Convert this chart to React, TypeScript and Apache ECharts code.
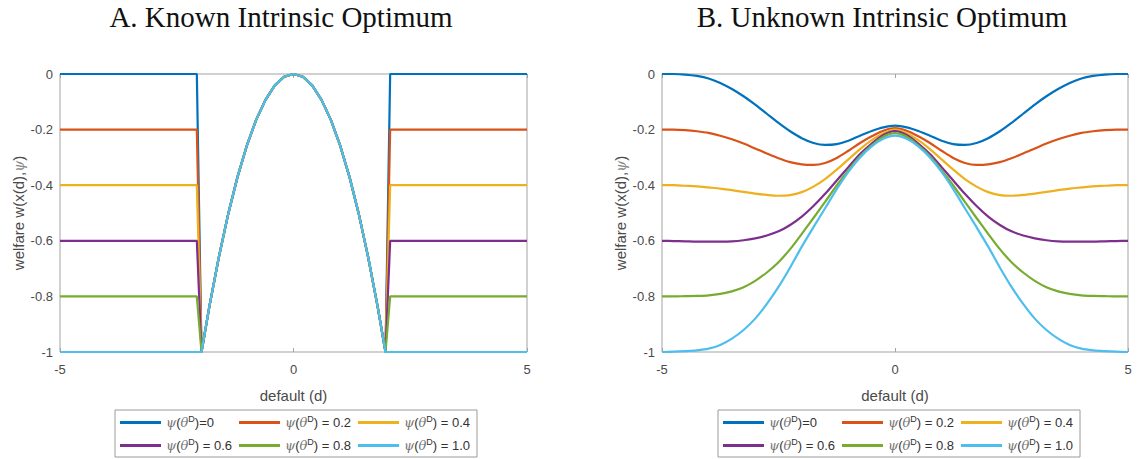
import React, { useEffect, useRef } from 'react';
import * as echarts from 'echarts';

// ---------- data ----------
const psiNames = ['ψ(θᴰ)=0', 'ψ(θᴰ) = 0.2', 'ψ(θᴰ) = 0.4', 'ψ(θᴰ) = 0.6', 'ψ(θᴰ) = 0.8', 'ψ(θᴰ) = 1.0'];
const lineColors = ['#0072BD', '#D95319', '#EDB120', '#7E2F8E', '#77AC30', '#4DBEEE'];

// Panel A: known intrinsic optimum
const knownLevels = [0, -0.2, -0.4, -0.6, -0.8, -1.0];
const knownOuterLeftD = [-5, -2.07];
const knownOuterRightD = [2.07, 5];
const knownCenterD = [-1.97, -1.8, -1.6, -1.4, -1.2, -1.0, -0.8, -0.6, -0.4, -0.2, 0, 0.2, 0.4, 0.6, 0.8, 1.0, 1.2, 1.4, 1.6, 1.8, 1.97];
const knownCenterW = [-1, -0.835, -0.66, -0.505, -0.371, -0.258, -0.165, -0.093, -0.041, -0.01, 0, -0.01, -0.041, -0.093, -0.165, -0.258, -0.371, -0.505, -0.66, -0.835, -1];

// Panel B: unknown intrinsic optimum
const unknownD = [
  -5, -4.75, -4.5, -4.25, -4, -3.75, -3.5, -3.25, -3, -2.75, -2.5, -2.25, -2, -1.75, -1.5, -1.25, -1, -0.75, -0.5, -0.25,
  0,
  0.25, 0.5, 0.75, 1, 1.25, 1.5, 1.75, 2, 2.25, 2.5, 2.75, 3, 3.25, 3.5, 3.75, 4, 4.25, 4.5, 4.75, 5,
];
const unknownPsi00 = [
  0, 0, -0.002, -0.007, -0.016, -0.032, -0.054, -0.08, -0.11, -0.143, -0.176, -0.206, -0.231, -0.248, -0.255, -0.252, -0.24, -0.222, -0.205, -0.192,
  -0.186,
  -0.192, -0.205, -0.222, -0.24, -0.252, -0.255, -0.248, -0.231, -0.206, -0.176, -0.143, -0.11, -0.08, -0.054, -0.032, -0.016, -0.007, -0.002, 0, 0,
];
const unknownPsi02 = [
  -0.2, -0.2, -0.202, -0.206, -0.212, -0.222, -0.235, -0.25, -0.268, -0.286, -0.303, -0.317, -0.325, -0.327, -0.32, -0.302, -0.276, -0.248, -0.224, -0.204,
  -0.195,
  -0.204, -0.224, -0.248, -0.276, -0.302, -0.32, -0.327, -0.325, -0.317, -0.303, -0.286, -0.268, -0.25, -0.235, -0.222, -0.212, -0.206, -0.202, -0.2, -0.2,
];
const unknownPsi04 = [
  -0.4, -0.4, -0.402, -0.404, -0.408, -0.412, -0.418, -0.424, -0.43, -0.435, -0.438, -0.436, -0.425, -0.405, -0.378, -0.344, -0.307, -0.27, -0.238, -0.213,
  -0.2,
  -0.213, -0.238, -0.27, -0.307, -0.344, -0.378, -0.405, -0.425, -0.436, -0.438, -0.435, -0.43, -0.424, -0.418, -0.412, -0.408, -0.404, -0.402, -0.4, -0.4,
];
const unknownPsi06 = [
  -0.6, -0.601, -0.602, -0.603, -0.603, -0.603, -0.602, -0.598, -0.591, -0.581, -0.566, -0.543, -0.513, -0.475, -0.431, -0.383, -0.335, -0.288, -0.25, -0.219,
  -0.205,
  -0.219, -0.25, -0.288, -0.335, -0.383, -0.431, -0.475, -0.513, -0.543, -0.566, -0.581, -0.591, -0.598, -0.602, -0.603, -0.603, -0.603, -0.602, -0.601, -0.6,
];
const unknownPsi08 = [
  -0.8, -0.8, -0.799, -0.798, -0.796, -0.791, -0.782, -0.767, -0.744, -0.714, -0.677, -0.63, -0.575, -0.518, -0.46, -0.401, -0.346, -0.296, -0.257, -0.226,
  -0.213,
  -0.226, -0.257, -0.296, -0.346, -0.401, -0.46, -0.518, -0.575, -0.63, -0.677, -0.714, -0.744, -0.767, -0.782, -0.791, -0.796, -0.798, -0.799, -0.8, -0.8,
];
const unknownPsi10 = [
  -1, -0.999, -0.997, -0.994, -0.988, -0.975, -0.952, -0.921, -0.88, -0.827, -0.766, -0.696, -0.621, -0.551, -0.483, -0.414, -0.352, -0.3, -0.26, -0.233,
  -0.222,
  -0.233, -0.26, -0.3, -0.352, -0.414, -0.483, -0.551, -0.621, -0.696, -0.766, -0.827, -0.88, -0.921, -0.952, -0.975, -0.988, -0.994, -0.997, -0.999, -1,
];
const unknownSeries = [unknownPsi00, unknownPsi02, unknownPsi04, unknownPsi06, unknownPsi08, unknownPsi10];

const titles = ['A. Known Intrinsic Optimum', 'B. Unknown Intrinsic Optimum'];
const xName = 'default (d)';
const yName = 'welfare w(x(d),{g|ψ})';

// ---------- styles ----------
const axisGray = '#a3a3a3';
const labelColor = '#4a4a4a';
const sansFont = '"Liberation Sans", Arial, sans-serif';

const grids = [
  { left: 60, top: 74, width: 467, height: 278 },
  { left: 662, top: 74, width: 466, height: 278 },
];

function buildKnown(level: number) {
  const pts: number[][] = [];
  knownOuterLeftD.forEach((d) => pts.push([d, level]));
  knownCenterD.forEach((d, i) => pts.push([d, knownCenterW[i]]));
  knownOuterRightD.forEach((d) => pts.push([d, level]));
  return pts;
}

function legendFormatter(name: string) {
  const rest = name.split('ᴰ')[1];
  return `{g|ψ}{t|(}{g|θ}{s|D}{t|${rest}}`;
}

export default function App() {
  const ref = useRef<HTMLDivElement>(null);
  useEffect(() => {
    document.body.style.margin = '0';
    const chart = echarts.init(ref.current!, undefined, { renderer: 'svg' });

    const tick = { show: true, inside: true, length: 4, lineStyle: { color: axisGray } };
    const noLine = { show: false, onZero: false };
    const xAxes: any[] = [];
    const yAxes: any[] = [];
    [0, 1].forEach((g) => {
      xAxes.push({
        type: 'value', gridIndex: g, min: -5, max: 5, interval: 5, position: 'bottom',
        axisLine: noLine, splitLine: { show: false }, axisTick: tick,
        axisLabel: { color: labelColor, fontSize: 13, fontFamily: sansFont, margin: 11 },
        name: xName, nameLocation: 'middle', nameGap: 36,
        nameTextStyle: { color: labelColor, fontSize: 15, fontFamily: sansFont },
      });
      xAxes.push({
        type: 'value', gridIndex: g, min: -5, max: 5, interval: 5, position: 'top',
        axisLine: noLine, splitLine: { show: false }, axisTick: tick,
        axisLabel: { show: false },
      });
      yAxes.push({
        type: 'value', gridIndex: g, min: -1, max: 0, interval: 0.2, position: 'left',
        axisLine: noLine, splitLine: { show: false }, axisTick: tick,
        axisLabel: { color: labelColor, fontSize: 13, fontFamily: sansFont, margin: 7 },
        name: yName, nameLocation: 'middle', nameGap: 34,
        nameTextStyle: {
          color: labelColor, fontSize: 15, fontFamily: sansFont,
          rich: { g: { fontSize: 14, fontStyle: 'italic', fontFamily: '"DejaVu Serif", serif', color: '#888' } },
        },
      });
      yAxes.push({
        type: 'value', gridIndex: g, min: -1, max: 0, interval: 0.2, position: 'right',
        axisLine: noLine, splitLine: { show: false }, axisTick: tick,
        axisLabel: { show: false },
      });
    });

    const series: any[] = [];
    knownLevels.forEach((lv, i) => {
      series.push({
        type: 'line', name: psiNames[i], xAxisIndex: 0, yAxisIndex: 0,
        data: buildKnown(lv), showSymbol: false, symbol: 'none', clip: false,
        lineStyle: { width: 2.2, color: lineColors[i] }, itemStyle: { color: lineColors[i] },
      });
    });
    unknownSeries.forEach((vals, i) => {
      series.push({
        type: 'line', name: psiNames[i], xAxisIndex: 2, yAxisIndex: 2,
        data: unknownD.map((d, j) => [d, vals[j]]), smooth: 0.3,
        showSymbol: false, symbol: 'none', clip: false,
        lineStyle: { width: 2.2, color: lineColors[i] }, itemStyle: { color: lineColors[i] },
      });
    });

    const legendBase = (left: number) => ({
      data: psiNames, left, top: 410, width: 360, orient: 'horizontal',
      icon: 'rect', itemWidth: 41, itemHeight: 3, itemGap: 0,
      padding: [1, 0, 0, 5], borderColor: '#9a9a9a', borderWidth: 1,
      selectedMode: false,
      formatter: legendFormatter,
      textStyle: {
        width: 73, color: '#333', fontSize: 13, fontFamily: sansFont, lineHeight: 23,
        rich: {
          t: { fontSize: 13, fontFamily: sansFont, color: '#333', lineHeight: 23 },
          g: { fontSize: 13, fontStyle: 'italic', fontFamily: '"DejaVu Serif", serif', color: '#777', lineHeight: 23 },
          s: { fontSize: 9, fontFamily: sansFont, color: '#333', lineHeight: 23, padding: [0, 0, 8, 0] },
        },
      },
    });

    chart.setOption({
      animation: false,
      backgroundColor: '#ffffff',
      grid: grids.map((g) => ({ ...g, show: true, borderColor: axisGray, borderWidth: 1, backgroundColor: 'transparent' })),
      xAxis: xAxes,
      yAxis: yAxes,
      legend: [legendBase(115), legendBase(718)],
      graphic: [
        { type: 'text', x: 281, y: 17, style: { text: titles[0], font: '29px "Liberation Serif", serif', fill: '#111', textAlign: 'center', textVerticalAlign: 'middle' } },
        { type: 'text', x: 882, y: 17, style: { text: titles[1], font: '29px "Liberation Serif", serif', fill: '#111', textAlign: 'center', textVerticalAlign: 'middle' } },
      ],
      series,
    });
    return () => chart.dispose();
  }, []);
  return <div ref={ref} style={{ width: 1139, height: 459 }} />;
}
